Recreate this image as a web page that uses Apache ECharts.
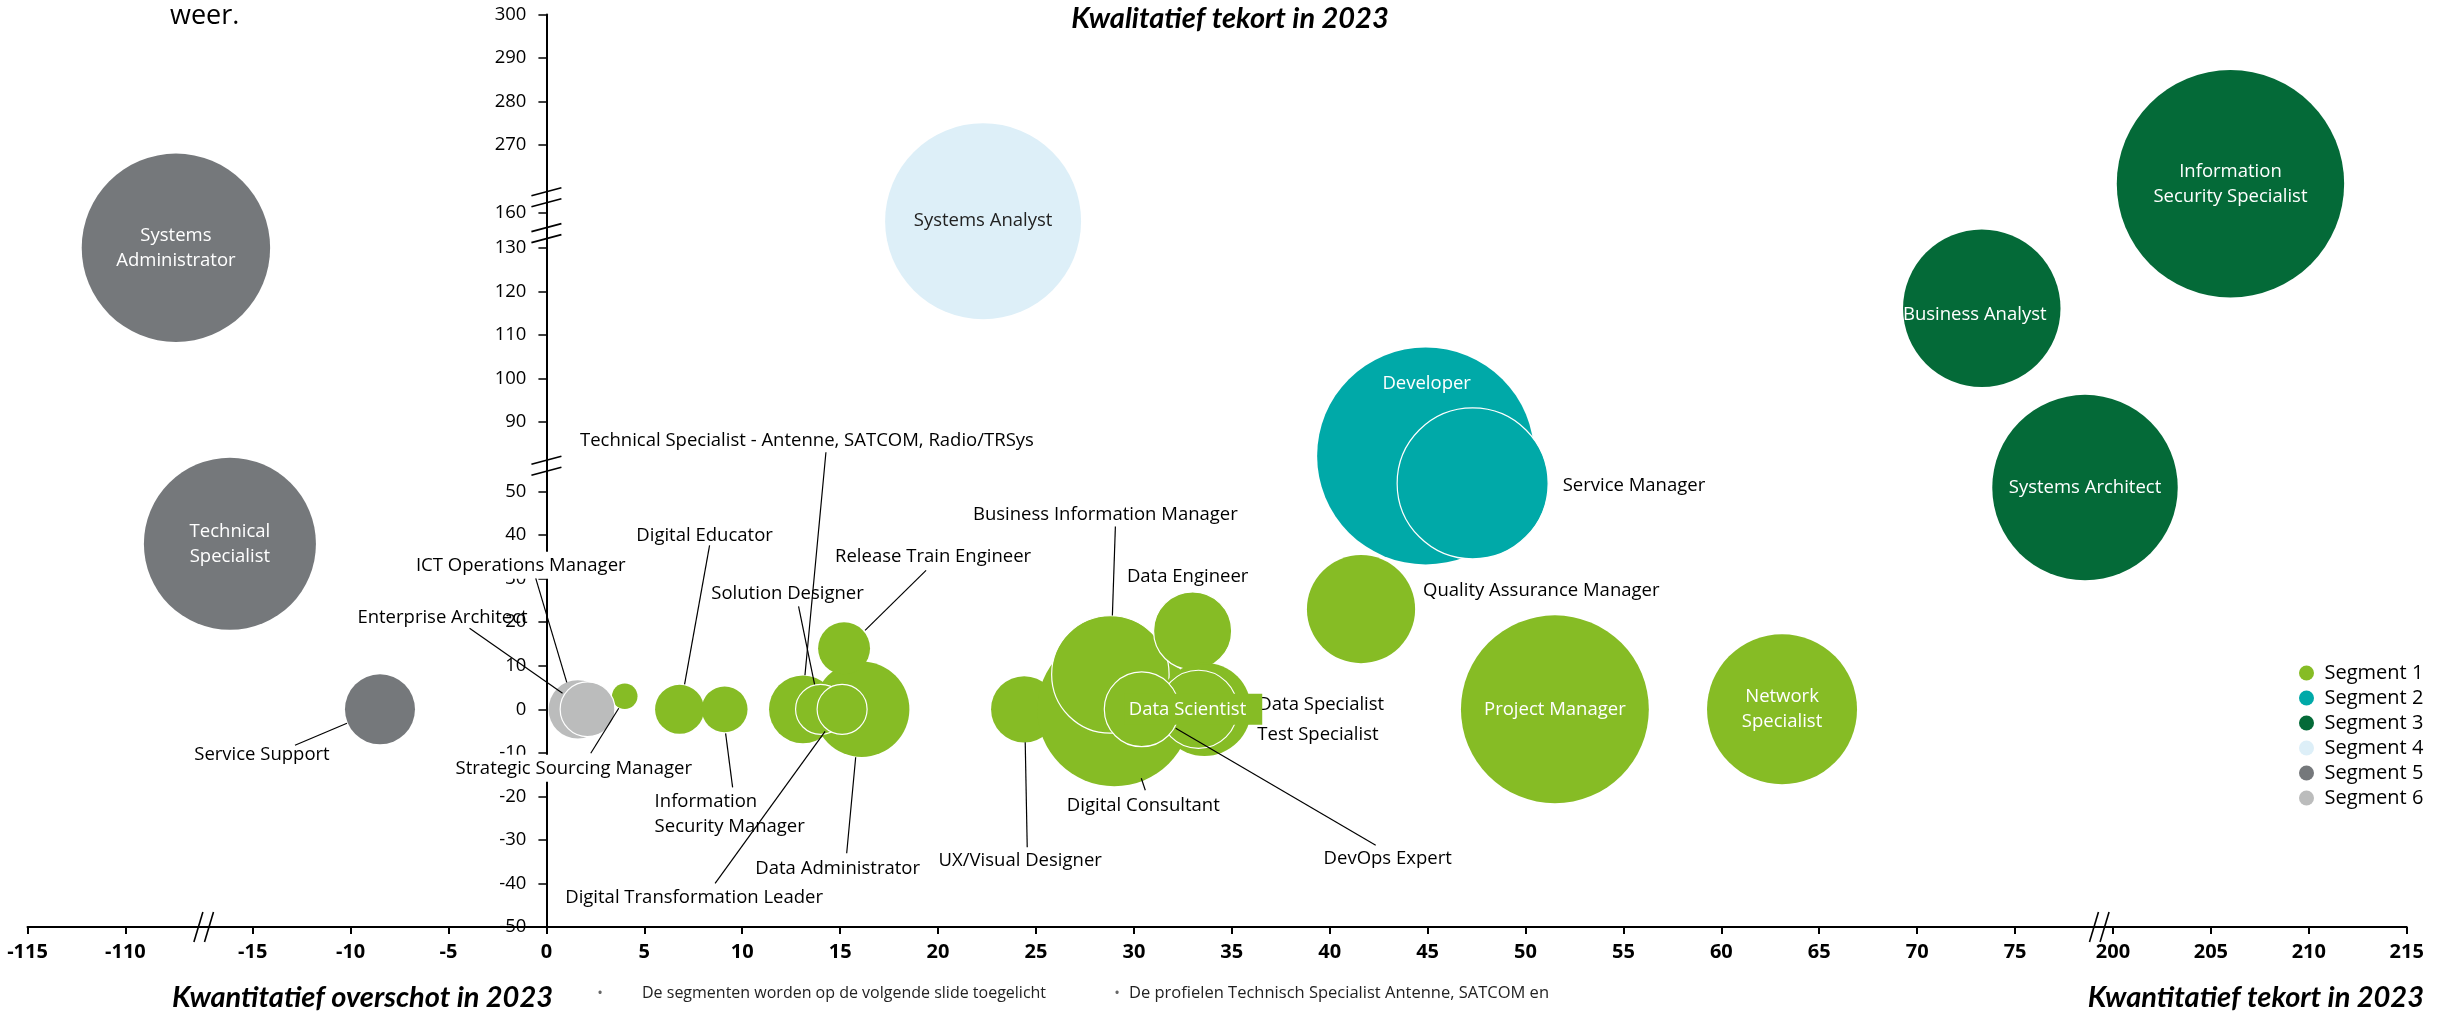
<!DOCTYPE html>
<html>
<head>
<meta charset="utf-8">
<title>Kwalitatief en kwantitatief tekort 2023</title>
<script src="https://cdn.jsdelivr.net/npm/echarts@6.0.0/dist/echarts.min.js"></script>
<style>
  html, body { margin: 0; padding: 0; background: #fff; }
  #container { width: 2456px; height: 1013px; }
</style>
</head>
<body>
<div id="container"></div>
<script>
// profielen: naam, segment, kwantitatief (x), kwalitatief (y), omvang (bubbel)
var names = ['Systems Administrator', 'Technical Specialist', 'Service Support',
  'ICT Operations Manager', 'Enterprise Architect',
  'Strategic Sourcing Manager', 'Digital Educator', 'Information Security Manager', 'Data Administrator',
  'Technical Specialist - Antenne, SATCOM, Radio/TRSys', 'Solution Designer', 'Digital Transformation Leader',
  'Release Train Engineer', 'UX/Visual Designer', 'Digital Consultant', 'Business Information Manager',
  'Data Engineer', 'Data Specialist', 'Test Specialist', 'Data Scientist', 'DevOps Expert',
  'Quality Assurance Manager', 'Project Manager', 'Network Specialist',
  'Developer', 'Service Manager',
  'Information Security Specialist', 'Business Analyst', 'Systems Architect',
  'Systems Analyst'];
var segment = [5, 5, 5, 6, 6, 1, 1, 1, 1, 1, 1, 1, 1, 1, 1, 1, 1, 1, 1, 1, 1, 1, 1, 1, 2, 2, 3, 3, 3, 4];
var xVal = [-72.3, -32, -8.5, 1.6, 2.1, 4.0, 6.8, 9.1, 16.1, 13.1, 14.0, 15.1, 15.2, 24.4, 29.0, 28.8,
  33.0, 33.6, 33.6, 33.3, 30.4, 41.6, 51.5, 63.1, 44.9, 47.3, 206.0, 73.3, 164.3, 22.3];
var yVal = [130, 38, 0, 0, 0, 3, 0, 0, 0, 0, 0, 0, 14, 0, 0, 8,
  18, 0, 0, 0, 0, 23, 0, 0, 70.5, 54.7, 207.2, 116.1, 52.3, 152.9];
var sizeVal = [355, 296, 49, 34, 30, 6.5, 24, 21, 91, 46, 25, 25, 27, 44, 237, 138,
  61, 87, 80, 61, 56, 117, 353, 225, 471, 228, 517, 248, 344, 384];

var segNames = ['Segment 1', 'Segment 2', 'Segment 3', 'Segment 4', 'Segment 5', 'Segment 6'];
var segColors = ['#86BC25', '#00A9A8', '#046A38', '#DDEFF8', '#75787B', '#BBBCBC'];

// asticks
var xTicks = [-115, -110, -15, -10, -5, 0, 5, 10, 15, 20, 25, 30, 35, 40, 45, 50, 55, 60, 65, 70, 75, 200, 205, 210, 215];
var yTicks = [-50, -40, -30, -20, -10, 0, 10, 20, 30, 40, 50, 90, 100, 110, 120, 130, 160, 270, 280, 290, 300];

// gebroken assen: waarde -> plek op de as
var xScaleMap = [[-115, -26.5], [-110, -21.5], [-15, -15], [75, 75], [200, 80], [215, 95]];
var yScaleMap = [[-50, -50], [50, 50], [90, 66], [130, 106], [160, 114], [270, 129.6], [300, 159.6]];
// breekstreepjes: as, tussen a en b, fractie
var axisBreaks = [['x', -110, -15, 0.615], ['x', 75, 200, 0.86],
  ['y', 50, 90, 0.37], ['y', 130, 160, 0.42], ['y', 160, 270, 0.23]];

function piece(map, v) {
  for (var i = 0; i < map.length - 1; i++) {
    if (v <= map[i + 1][0] || i === map.length - 2) {
      var a = map[i], b = map[i + 1];
      return a[1] + (v - a[0]) / (b[0] - a[0]) * (b[1] - a[1]);
    }
  }
}
function toX(v) { return piece(xScaleMap, v); }
function toY(v) { return piece(yScaleMap, v); }
function tickName(ticks, fn, val) {
  for (var i = 0; i < ticks.length; i++) {
    if (Math.abs(fn(ticks[i]) - val) < 1e-6) return String(ticks[i]);
  }
  return '';
}

var gridLeft = 27.5, gridRight = 49.3;
var chartW = 2456;
// y-as staat op x = 0
var yAxisShift = (0 - toX(-115)) / (toX(215) - toX(-115)) * (chartW - gridLeft - gridRight);

// labels: offset (px) t.o.v. bubbelmidden, lijn = [x1, y1, x2, y2] t.o.v. midden
var labelLayout = {
  'Systems Administrator': { inside: true, text: 'Systems\nAdministrator' },
  'Technical Specialist': { inside: true, text: 'Technical\nSpecialist' },
  'Service Support': { off: [-118, 45], line: [-33, 14, -85, 36] },
  'ICT Operations Manager': { off: [-57, -144], line: [-42, -131, -11, -27], bg: true },
  'Enterprise Architect': { off: [-145, -92], line: [-118, -81, -25, -16], border: true },
  'Strategic Sourcing Manager': { off: [-51, 72], line: [-6, 12, -34, 57], bg: true },
  'Digital Educator': { off: [25, -174], line: [30, -164, 5, -25] },
  'Information Security Manager': { off: [-72, 105], align: 'left', text: 'Information\nSecurity Manager', line: [1, 24, 8, 78], bg: true },
  'Data Administrator': { off: [-24, 159], line: [-6, 48, -15, 144] },
  'Technical Specialist - Antenne, SATCOM, Radio/TRSys': { off: [4, -269], line: [23, -257, 2, -34] },
  'Solution Designer': { off: [-33, -116], line: [-22, -103, -6, -25], bg: true, border: true },
  'Digital Transformation Leader': { off: [-148, 188], line: [-17, 22, -127, 174], border: true },
  'Release Train Engineer': { off: [89, -92], line: [21, -18, 82, -78] },
  'UX/Visual Designer': { off: [-4, 151], line: [1, 33, 3, 138] },
  'Digital Consultant': { off: [29, 96], line: [27, 69, 31, 81] },
  'Business Information Manager': { off: [-5, -160], line: [2, -59, 5, -148], border: true },
  'Data Engineer': { off: [-5, -54], border: true },
  'Data Specialist': { off: [54, -5], align: 'left' },
  'Test Specialist': { off: [53, 25], align: 'left' },
  'Data Scientist': { inside: true, off: [-5, 0], box: '#86BC25', border: true },
  'DevOps Expert': { off: [246, 149], line: [34, 19, 234, 136], border: true },
  'Quality Assurance Manager': { off: [62, -18], align: 'left' },
  'Project Manager': { inside: true },
  'Network Specialist': { inside: true, text: 'Network\nSpecialist' },
  'Developer': { inside: true, off: [1, -72] },
  'Service Manager': { off: [90, 2], align: 'left', border: true },
  'Information Security Specialist': { inside: true, text: 'Information\nSecurity Specialist' },
  'Business Analyst': { inside: true, off: [-7, 6] },
  'Systems Architect': { inside: true },
  'Systems Analyst': { inside: true, color: '#222' }
};

function buildLabel(name) {
  var L = labelLayout[name] || {};
  var lab = {
    show: true,
    position: 'inside',
    formatter: L.text || name,
    fontSize: 18.5,
    lineHeight: 25,
    offset: L.off || [0, 0],
    color: L.inside ? (L.color || '#fff') : '#000',
    align: L.align || 'center'
  };
  if (L.bg) { lab.backgroundColor = '#fff'; lab.padding = [1, 2]; }
  if (L.box) { lab.backgroundColor = L.box; lab.padding = [3, 16, 3, 4]; }
  return lab;
}

var series = segNames.map(function (s, k) {
  var data = [];
  names.forEach(function (n, i) {
    if (segment[i] !== k + 1) return;
    var L = labelLayout[n] || {};
    data.push({
      name: n,
      value: [toX(xVal[i]), toY(yVal[i]), sizeVal[i]],
      symbolSize: 10 * Math.sqrt(sizeVal[i]),
      itemStyle: L.border ? { borderColor: '#fff', borderWidth: 1.2 } : { borderWidth: 0 },
      label: buildLabel(n)
    });
  });
  return {
    name: s,
    type: 'scatter',
    symbol: 'circle',
    clip: false,
    silent: true,
    itemStyle: { color: segColors[k], opacity: 1 },
    data: data
  };
});

// verbindingslijntjes naar de labels
var leaderData = [];
names.forEach(function (n, i) {
  if (labelLayout[n] && labelLayout[n].line) leaderData.push([toX(xVal[i]), toY(yVal[i]), i]);
});
series.push({
  type: 'custom',
  silent: true,
  z: 4,
  renderItem: function (params, api) {
    var c = api.coord([api.value(0), api.value(1)]);
    var L = labelLayout[names[api.value(2)]].line;
    return {
      type: 'line',
      shape: { x1: c[0] + L[0], y1: c[1] + L[1], x2: c[0] + L[2], y2: c[1] + L[3] },
      style: { stroke: '#000', lineWidth: 1.2 }
    };
  },
  data: leaderData
});

// breekstreepjes op de assen
series.push({
  type: 'custom',
  silent: true,
  z: 5,
  renderItem: function (params, api) {
    var b = axisBreaks[params.dataIndex];
    var lines = [];
    if (b[0] === 'x') {
      var px = toX(b[1]) + (toX(b[2]) - toX(b[1])) * b[3];
      var c = api.coord([px, -50]);
      [-5.3, 5.3].forEach(function (d) {
        lines.push({ type: 'line', shape: { x1: c[0] + d - 4.5, y1: c[1] + 15, x2: c[0] + d + 4.5, y2: c[1] - 15 },
          style: { stroke: '#000', lineWidth: 1.6 } });
      });
    } else {
      var py = toY(b[1]) + (toY(b[2]) - toY(b[1])) * b[3];
      var c2 = api.coord([0, py]);
      [-5.5, 5.5].forEach(function (d) {
        lines.push({ type: 'line', shape: { x1: c2[0] - 15, y1: c2[1] + d + 4, x2: c2[0] + 15, y2: c2[1] + d - 4 },
          style: { stroke: '#000', lineWidth: 1.6 } });
      });
    }
    return { type: 'group', children: lines };
  },
  data: axisBreaks.map(function (b, i) { return [i]; })
});

var myChart = echarts.init(document.getElementById('container'));
var option = {
  animation: false,
  backgroundColor: '#fff',
  textStyle: { fontFamily: '"Open Sans", "Noto Sans", sans-serif' },
  grid: { left: gridLeft, right: gridRight, top: 14.4, bottom: 86, containLabel: false, outerBoundsMode: 'none' },
  legend: {
    orient: 'vertical',
    left: 2294,
    top: 658,
    icon: 'circle',
    itemWidth: 26,
    itemHeight: 15,
    itemGap: 5,
    selectedMode: false,
    textStyle: { fontSize: 20, lineHeight: 20, color: '#000' },
    data: segNames
  },
  xAxis: {
    type: 'value',
    min: toX(-115),
    max: toX(215),
    axisLine: { onZero: false, lineStyle: { color: '#000', width: 2 } },
    axisTick: { customValues: xTicks.map(toX), length: 7, lineStyle: { color: '#000', width: 2 } },
    axisLabel: {
      customValues: xTicks.map(toX),
      formatter: function (v) { return tickName(xTicks, toX, v); },
      fontSize: 20, fontWeight: 'bold', color: '#000', margin: 15
    },
    splitLine: { show: false }
  },
  yAxis: {
    type: 'value',
    position: 'left',
    offset: -yAxisShift,
    min: toY(-50),
    max: toY(300),
    axisLine: { show: true, onZero: false, lineStyle: { color: '#000', width: 2 } },
    axisTick: { show: true, customValues: yTicks.map(toY), length: 8, lineStyle: { color: '#000', width: 1.5 } },
    axisLabel: {
      customValues: yTicks.map(toY),
      formatter: function (v) { return tickName(yTicks, toY, v); },
      fontSize: 18.5, color: '#000', margin: 20
    },
    splitLine: { show: false }
  },
  graphic: [
    { type: 'text', x: 170, y: 16, style: { text: 'weer.', font: '27px "Open Sans"', fill: '#000', verticalAlign: 'middle' } },
    { type: 'text', x: 1230, y: 19, style: { text: 'Kwalitatief tekort in 2023', font: 'italic bold 29px Lato', fill: '#000', align: 'center', verticalAlign: 'middle' } },
    { type: 'text', x: 172, y: 998, style: { text: 'Kwantitatief overschot in 2023', font: 'italic bold 29px Lato', fill: '#000', align: 'left', verticalAlign: 'middle' } },
    { type: 'text', x: 2424, y: 998, style: { text: 'Kwantitatief tekort in 2023', font: 'italic bold 29px Lato', fill: '#000', align: 'right', verticalAlign: 'middle' } },
    { type: 'text', x: 600, y: 994, style: { text: '•', font: '15px "Open Sans"', fill: '#666', align: 'center', verticalAlign: 'middle' } },
    { type: 'text', x: 642, y: 993, style: { text: 'De segmenten worden op de volgende slide toegelicht', font: '16px "Open Sans"', fill: '#222', verticalAlign: 'middle' } },
    { type: 'text', x: 1117, y: 994, style: { text: '•', font: '15px "Open Sans"', fill: '#666', align: 'center', verticalAlign: 'middle' } },
    { type: 'text', x: 1129, y: 993, style: { text: 'De profielen Technisch Specialist Antenne, SATCOM en', font: '16.5px "Open Sans"', fill: '#222', verticalAlign: 'middle' } }
  ],
  series: series
};
myChart.setOption(option);
</script>
</body>
</html>
